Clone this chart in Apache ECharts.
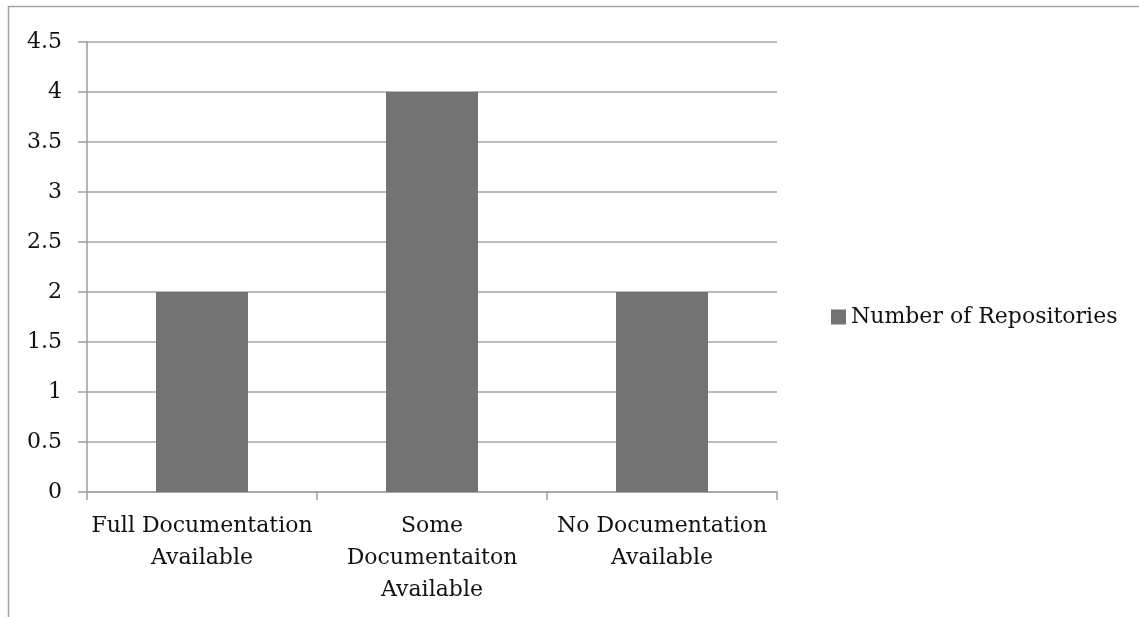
<!DOCTYPE html>
<html>
<head>
<meta charset="utf-8">
<style>
  html, body { margin: 0; padding: 0; background: #ffffff; }
  #chart { width: 1139px; height: 617px; }
</style>
<script src="https://cdn.jsdelivr.net/npm/echarts@6/dist/echarts.min.js"></script>
</head>
<body>
<div id="chart"></div>
<script>
// Repository documentation survey
const categories = [
  'Full Documentation\nAvailable',
  'Some\nDocumentaiton\nAvailable',
  'No Documentation\nAvailable'
];
const seriesName = 'Number of Repositories';
const repoCounts = [2, 4, 2];
const yMin = 0;
const yMax = 4.5;
const yStep = 0.5;

const FONT = 'DejaVu Serif';
const LINE = '#a3a3a3';
const BAR = '#737373';
const TEXT = '#111111';

const chart = echarts.init(document.getElementById('chart'), null, { renderer: 'canvas' });

chart.setOption({
  animation: false,
  backgroundColor: '#ffffff',
  textStyle: { fontFamily: FONT, color: TEXT },
  graphic: [{
    type: 'rect',
    silent: true,
    shape: { x: 8.5, y: 6.5, width: 1300, height: 800 },
    style: { fill: 'none', stroke: LINE, lineWidth: 1.5 }
  }],
  grid: { left: 87, right: 362, top: 42, bottom: 125, containLabel: false },
  legend: {
    orient: 'vertical',
    left: 826,
    top: 301,
    itemWidth: 15,
    itemHeight: 15,
    itemGap: 5,
    icon: 'rect',
    textStyle: { fontFamily: FONT, fontSize: 22, color: TEXT },
    data: [seriesName]
  },
  xAxis: {
    type: 'category',
    data: categories,
    axisLine: { show: true, lineStyle: { color: LINE, width: 1.6 } },
    axisTick: { show: true, length: 8, lineStyle: { color: LINE, width: 1.6 } },
    axisLabel: {
      interval: 0,
      margin: 18,
      fontFamily: FONT,
      fontSize: 22,
      lineHeight: 32,
      color: TEXT,
      align: 'center'
    },
    splitLine: { show: false }
  },
  yAxis: {
    type: 'value',
    min: yMin,
    max: yMax,
    interval: yStep,
    axisLine: { show: true, lineStyle: { color: LINE, width: 1.6 } },
    axisTick: { show: true, length: 9, lineStyle: { color: LINE, width: 1.6 } },
    axisLabel: { margin: 25, fontFamily: FONT, fontSize: 22, color: TEXT },
    splitLine: { show: true, lineStyle: { color: LINE, width: 1.6 } }
  },
  series: [{
    name: seriesName,
    type: 'bar',
    data: repoCounts,
    barCategoryGap: '60%',
    itemStyle: { color: BAR }
  }]
});
</script>
</body>
</html>
